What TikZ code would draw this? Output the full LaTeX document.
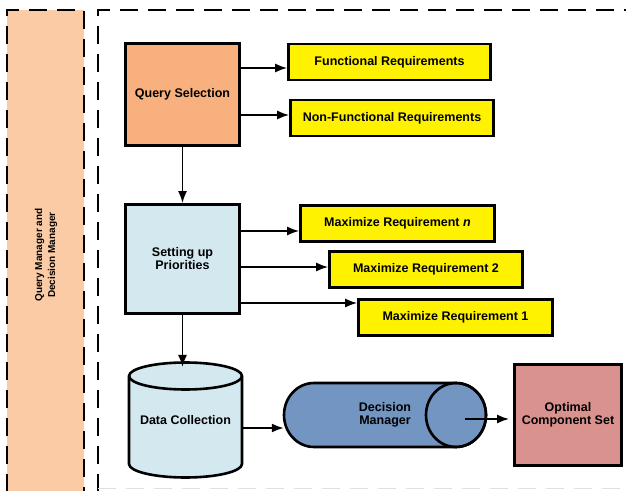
\documentclass[tikz,border=0pt]{standalone}
\usepackage{fontspec}
\setmainfont{Liberation Sans}
\usetikzlibrary{arrows.meta}
\definecolor{peach}{HTML}{FBCBA5}
\definecolor{qsorange}{HTML}{F8B07E}
\definecolor{lblue}{HTML}{D3E9EF}
\definecolor{dmblue}{HTML}{7295C1}
\definecolor{ocsred}{HTML}{DA928F}
\begin{document}
\begin{tikzpicture}[x=1pt,y=1pt,
  txt/.style={font=\bfseries\fontsize{12.5}{13}\selectfont, align=center, inner sep=0pt},
  box/.style={txt, draw=black, line width=2.8pt},
  req/.style={box, fill=yellow, line width=2.6pt, minimum height=36},
  arr/.style={line width=1.8pt, -{Latex[length=12pt,width=9pt]}},
  framedash/.style={line width=2.5pt, dash pattern=on 18pt off 10pt},
  shapeline/.style={line width=2.6pt}]
\useasboundingbox (0,0) rectangle (626,490);
\clip (0,0) rectangle (626,490);

% left band
\draw[framedash, fill=peach] (7,-30) -- (7,480) -- (84,480) -- (84,-30);
\node[rotate=90, font=\bfseries\fontsize{10}{13}\selectfont, align=center] (lbl) at (46,235) {Query Manager and\\Decision Manager};

% main frame
\draw[framedash] (98,-30) -- (98,480) -- (660,480);
\draw[framedash, draw=black!12, line width=1.5pt] (98,1.5) -- (660,1.5);

% top group
\node[box, fill=qsorange, minimum width=114, minimum height=102] (qs) at (182.5,395.5) {Query Selection};
\node[req, minimum width=202] (fr) at (389.5,428) {Functional Requirements};
\node[req, minimum width=203] (nfr) at (392,372) {Non-Functional Requirements};

% middle group
\node[box, fill=lblue, minimum width=114, minimum height=109] (sp) at (182.5,231) {Setting up\\Priorities};
\node[req, minimum width=194] (mn) at (397.5,266.5) {Maximize Requirement \textit{n}};
\node[req, minimum width=193] (m2) at (426,220.5) {Maximize Requirement 2};
\node[req, minimum width=194] (m1) at (455.5,172.5) {Maximize Requirement 1};

% data collection cylinder
\filldraw[shapeline, fill=lblue] (129,114) -- (129,26) arc[start angle=180, end angle=360, x radius=56.5, y radius=13.5] -- (242,114) arc[start angle=0, end angle=180, x radius=56.5, y radius=13.5] -- cycle;
\draw[shapeline] (129,114) arc[start angle=180, end angle=360, x radius=56.5, y radius=13.5];
\node[txt, minimum width=113, minimum height=114] (dc) at (185.5,70) {Data Collection};

% decision manager cylinder
\filldraw[shapeline, fill=dmblue] (314,107) -- (456,107) arc[start angle=90, end angle=-90, x radius=30, y radius=32] -- (314,43) arc[start angle=270, end angle=90, x radius=30, y radius=32] -- cycle;
\draw[shapeline] (456,75) ellipse [x radius=30, y radius=32];
\node[txt, minimum width=202, minimum height=64] (dm) at (385,75) {Decision\\Manager};
\coordinate (dmout) at (465,71);

% optimal set
\node[box, fill=ocsred, minimum width=107, minimum height=101] (ocs) at (568,75) {Optimal\\Component Set};

% connectors
\draw[arr] (qs.east |- 0,422) -- (fr.west |- 0,422);
\draw[arr] (qs.east |- 0,375) -- (nfr.west |- 0,375);
\draw[arr] (qs.south) -- (sp.north);
\draw[arr] (sp.east |- 0,259) -- (mn.west |- 0,259);
\draw[arr] (sp.east |- 0,223) -- (m2.west |- 0,223);
\draw[arr] (sp.east |- 0,187) -- (m1.west |- 0,187);
\draw[arr] (sp.south) -- (sp.south |- 0,123);
\draw[arr] (dc.east |- 0,62) -- (dm.west |- 0,62);
\draw[arr, shorten >=4pt] (dmout) -- (ocs.west |- dmout);
\end{tikzpicture}
\end{document}
